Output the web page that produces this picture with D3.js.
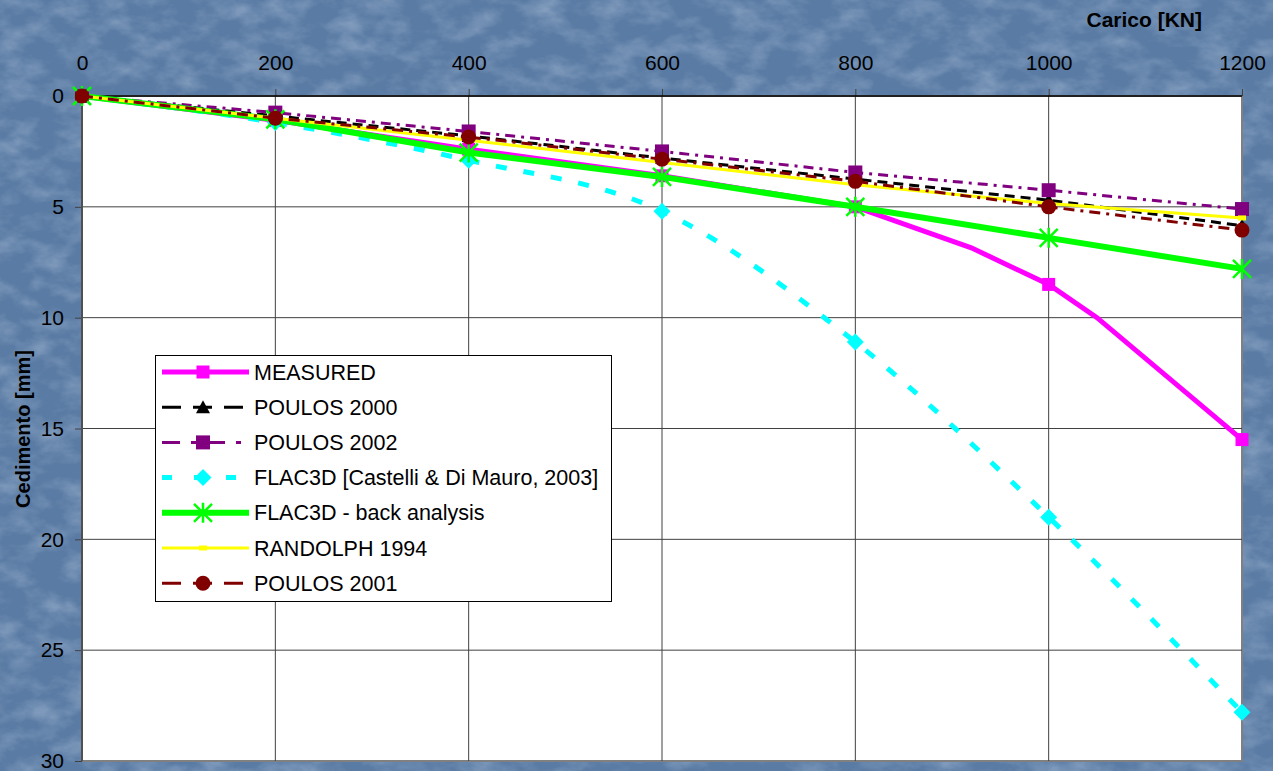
<!DOCTYPE html>
<html>
<head>
<meta charset="utf-8">
<script src="https://cdn.jsdelivr.net/npm/d3@7"></script>
<style>
  body { margin: 0; padding: 0; overflow: hidden; }
  svg { display: block; font-family: "Liberation Sans", Arial, sans-serif; }
  .ax text { font-size: 21px; fill: #000; }
  .ax path { display: none; }
  .ax line { stroke: #404040; stroke-width: 1; }
  .leg text { font-size: 21.5px; fill: #000; }
</style>
</head>
<body>
<svg id="chart"></svg>
<script>
// CHART DATA
var loads = [0, 200, 400, 600, 800, 1000, 1200];
var measuredLoads = [0, 200, 400, 600, 800, 920, 1000, 1050, 1200];
var measured = [0, 1.1, 2.4, 3.6, 5.0, 6.85, 8.5, 10.0, 15.5];
var poulos2000 = [0, 0.9, 1.8, 2.8, 3.75, 4.7, 5.85];
var poulos2002 = [0, 0.75, 1.6, 2.5, 3.45, 4.25, 5.1];
var flacCastelli = [0, 1.2, 2.9, 5.2, 11.1, 19.0, 27.8];
var flacBack = [0, 1.05, 2.55, 3.65, 5.0, 6.4, 7.8];
var randolph = [0, 1.0, 2.0, 3.0, 4.0, 4.85, 5.5];
var poulos2001 = [0, 1.0, 1.85, 2.85, 3.85, 5.0, 6.05];
var yTicks = [0, 5, 10, 15, 20, 25, 30];

// SIZING
var width = 1273;
var height = 771;
var plotLeft = 82, plotRight = 1242, plotTop = 96, plotBottom = 761;

var svg = d3.select("#chart").attr("width", width).attr("height", height);

// BACKGROUND (mottled blue)
var defs = svg.append("defs");
var filt = defs.append("filter").attr("id", "tex")
  .attr("x", 0).attr("y", 0).attr("width", "100%").attr("height", "100%");
filt.append("feTurbulence")
  .attr("type", "fractalNoise")
  .attr("baseFrequency", "0.03 0.05")
  .attr("numOctaves", 4)
  .attr("seed", 7);
filt.append("feColorMatrix")
  .attr("type", "matrix")
  .attr("values", "0 0 0 0 0.75  0 0 0 0 0.84  0 0 0 0 0.95  0.6 0 0 0 -0.24");

svg.append("rect").attr("width", width).attr("height", height).attr("fill", "#5a7ba4");
svg.append("rect").attr("width", width).attr("height", height).attr("filter", "url(#tex)");

var xScale = d3.scaleLinear().domain([0, 1200]).range([plotLeft, plotRight]);
var yScale = d3.scaleLinear().domain([0, 30]).range([plotTop, plotBottom]);

// PLOT AREA
svg.append("rect")
  .attr("x", plotLeft).attr("y", plotTop)
  .attr("width", plotRight - plotLeft).attr("height", plotBottom - plotTop)
  .attr("fill", "#fff")
  .attr("stroke", "#808080").attr("stroke-width", 2);

// GRID
svg.append("g").selectAll("line")
  .data(loads.slice(1, -1))
  .enter().append("line")
  .attr("x1", d => xScale(d)).attr("x2", d => xScale(d))
  .attr("y1", plotTop).attr("y2", plotBottom)
  .attr("stroke", "#404040").attr("stroke-width", 1);
svg.append("g").selectAll("line")
  .data(yTicks.slice(1, -1))
  .enter().append("line")
  .attr("x1", plotLeft).attr("x2", plotRight)
  .attr("y1", d => yScale(d)).attr("y2", d => yScale(d))
  .attr("stroke", "#404040").attr("stroke-width", 1);

// AXES
svg.append("g").attr("class", "ax")
  .attr("transform", "translate(0," + plotTop + ")")
  .call(d3.axisTop(xScale).tickValues(loads).tickFormat(d3.format("d")).tickSize(7).tickPadding(19));
svg.append("g").attr("class", "ax")
  .attr("transform", "translate(" + plotLeft + ",0)")
  .call(d3.axisLeft(yScale).tickValues(yTicks).tickFormat(d3.format("d")).tickSize(7).tickPadding(11));

svg.append("line")
  .attr("x1", plotLeft).attr("x2", plotRight)
  .attr("y1", plotTop).attr("y2", plotTop)
  .attr("stroke", "#000").attr("stroke-width", 1.5);
svg.append("line")
  .attr("x1", plotLeft).attr("x2", plotLeft)
  .attr("y1", plotTop).attr("y2", plotBottom)
  .attr("stroke", "#505050").attr("stroke-width", 2);

// AXIS TITLES
svg.append("text").text("Carico [KN]")
  .attr("x", 1202).attr("y", 27)
  .attr("text-anchor", "end")
  .style("font-size", "21px").style("font-weight", "bold");
svg.append("text").text("Cedimento [mm]")
  .attr("transform", "translate(30,429) rotate(-90)")
  .attr("text-anchor", "middle")
  .style("font-size", "20px").style("font-weight", "bold");

// MARKERS
function markerPath(type) {
  switch (type) {
    case "square": return "M-6.5,-6.5H6.5V6.5H-6.5Z";
    case "square2": return "M-7,-7H7V7H-7Z";
    case "triangle": return "M0,-7L7,6H-7Z";
    case "diamond": return "M0,-8.5L8.5,0L0,8.5L-8.5,0Z";
    case "dash": return "M-4,-2.5H4V2.5H-4Z";
    case "circle": return "M7.5,0A7.5,7.5 0 1,1 -7.5,0A7.5,7.5 0 1,1 7.5,0Z";
    case "star": return "M0,-10V10M-9,-9L9,9M-9,9L9,-9";
  }
}

var seriesList = [
  { name: "MEASURED", xs: measuredLoads, ys: measured, color: "#ff00ff", w: 5, dash: null, legDash: null, marker: "square", curve: d3.curveLinear },
  { name: "POULOS 2000", xs: loads, ys: poulos2000, color: "#000000", w: 3, dash: "10,6", legDash: "19,12", marker: "triangle", curve: d3.curveLinear },
  { name: "POULOS 2002", xs: loads, ys: poulos2002, color: "#800080", w: 3, dash: "10,6,3,6", legDash: "18,11,5,11", marker: "square2", curve: d3.curveLinear },
  { name: "FLAC3D [Castelli & Di Mauro, 2003]", xs: loads, ys: flacCastelli, color: "#00ffff", w: 5, dash: "11,17", legDash: "10,22", marker: "diamond", curve: d3.curveMonotoneX },
  { name: "FLAC3D - back analysis", xs: loads, ys: flacBack, color: "#00ff00", w: 6, dash: null, legDash: null, marker: "star", curve: d3.curveLinear },
  { name: "RANDOLPH 1994", xs: loads, ys: randolph, color: "#ffff00", w: 3, dash: null, legDash: null, marker: "dash", curve: d3.curveLinear },
  { name: "POULOS 2001", xs: loads, ys: poulos2001, color: "#800000", w: 3, dash: "11,6,3,6", legDash: "19,12", marker: "circle", curve: d3.curveLinear }
];

function drawMarker(g, type, color, x, y) {
  var m = g.append("path")
    .attr("d", markerPath(type))
    .attr("transform", "translate(" + x + "," + y + ")");
  if (type === "star") {
    m.attr("fill", "none").attr("stroke", color).attr("stroke-width", 2.5);
  } else {
    m.attr("fill", color);
  }
}

var plot = svg.append("g");
seriesList.forEach(function(s) {
  var pts = s.xs.map(function(x, i) { return [x, s.ys[i]]; });
  var line = d3.line()
    .x(d => xScale(d[0]))
    .y(d => yScale(d[1]))
    .curve(s.curve);
  plot.append("path")
    .datum(pts)
    .attr("d", line)
    .attr("fill", "none")
    .attr("stroke", s.color)
    .attr("stroke-width", s.w)
    .attr("stroke-dasharray", s.dash);
  pts.filter(d => loads.indexOf(d[0]) >= 0).forEach(function(d) {
    drawMarker(plot, s.marker, s.color, xScale(d[0]), yScale(d[1]));
  });
});

// LEGEND
var leg = svg.append("g").attr("class", "leg");
leg.append("rect")
  .attr("x", 155.5).attr("y", 355.5)
  .attr("width", 456).attr("height", 246)
  .attr("fill", "#fff").attr("stroke", "#000").attr("stroke-width", 1);
seriesList.forEach(function(s, i) {
  var yy = 372 + i * 35.2;
  leg.append("line")
    .attr("x1", 162).attr("x2", 249)
    .attr("y1", yy).attr("y2", yy)
    .attr("stroke", s.color)
    .attr("stroke-width", s.w)
    .attr("stroke-dasharray", s.legDash);
  drawMarker(leg, s.marker, s.color, 203, yy);
  leg.append("text").text(s.name)
    .attr("x", 254).attr("y", yy + 7.5);
});
</script>
</body>
</html>
